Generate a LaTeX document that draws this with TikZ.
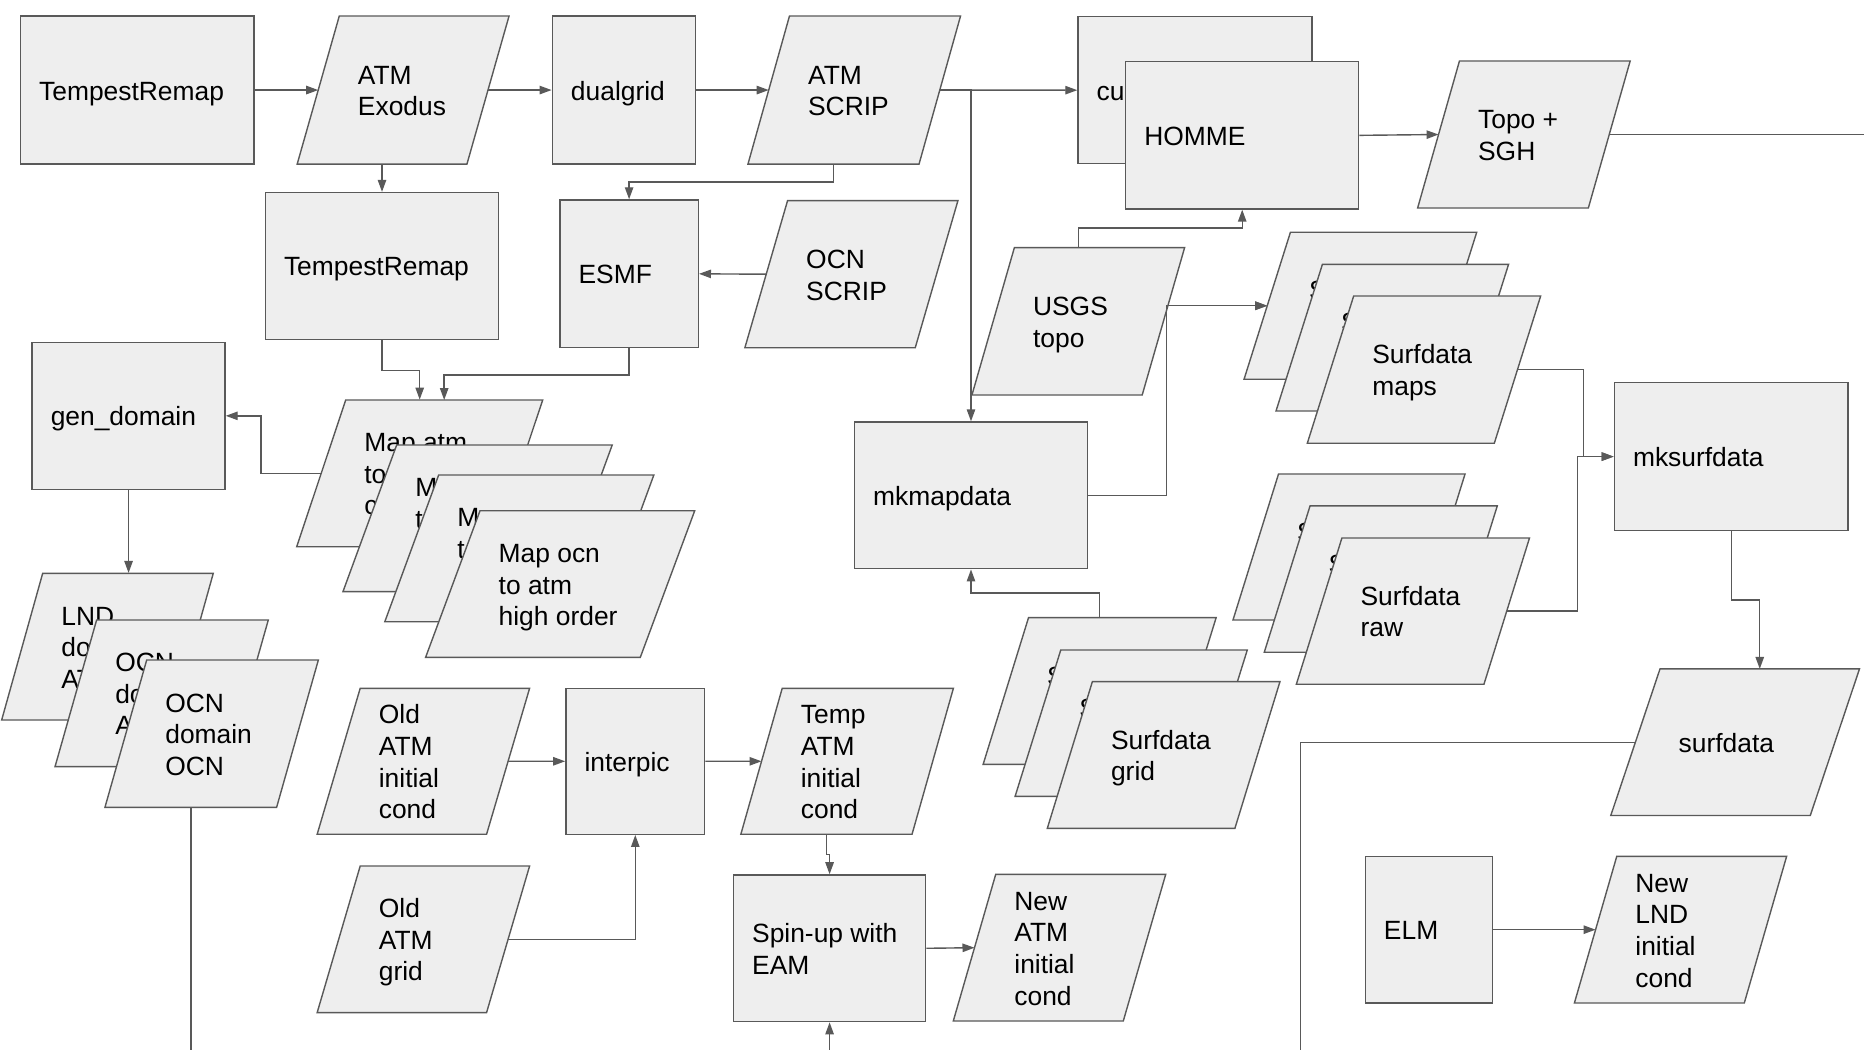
\documentclass[tikz,border=0pt]{standalone}
\usepackage{fontspec}
\setmainfont{Liberation Sans}
\usetikzlibrary{arrows.meta,fit}
\definecolor{boxfill}{HTML}{EEEEEE}
\definecolor{edgecol}{HTML}{595959}
\newcommand\mystrut{\rule[-2.9pt]{0pt}{15.8pt}}
\tikzset{
  shp/.style={fill=boxfill, draw=edgecol, line width=0.7pt, line join=miter},
  rbox/.style={shp, inner sep=0pt, rectangle},
  fitbox/.style={inner sep=0pt, rectangle, draw=none},
  lbl/.style={font=\fontsize{13.2pt}{15.81pt}\selectfont, text=black, inner sep=0pt, outer sep=0pt,
    align=left, anchor=west},
  arr/.style={draw=edgecol, line width=0.7pt, -{Triangle[length=6pt,width=4.2pt]}},
  ln/.style={draw=edgecol, line width=0.7pt},
}
% parallelogram: name, bottom-left x, top-left x, top-right x, top y, bottom y, text
\newcommand\pgm[7]{%
  \node[fitbox, fit={(#2,#5) (#4,#6)}] (#1) {};
  \path[shp] (#3,#5) -- (#4,#5) -- ({#4-#3+#2},#6) -- (#2,#6) -- cycle;
  \coordinate (#1-l) at ({(#2+#3)/2},{(#5+#6)/2});
  \coordinate (#1-r) at ({#4-(#3-#2)/2},{(#5+#6)/2});
  \coordinate (#1-tp) at ({(#3+#4)/2},#5);
  \coordinate (#1-b) at ({(#2+#4-#3+#2)/2},#6);
  \node[lbl] (#1-t) at ({#3+15.7},{(#5+#6)/2}) {\mystrut#7\mystrut};
}
% rectangle: name, x1, y1, x2, y2, text
\newcommand\rbx[6]{%
  \node[rbox, fit={(#2,#3) (#4,#5)}] (#1) {};
  \node[lbl] (#1-t) at ({#2+15.7},{(#3+#5)/2}) {\mystrut#6\mystrut};
}
\begin{document}
\begin{tikzpicture}[x=0.5944pt, y=-0.5944pt]
\useasboundingbox (0,0) rectangle (1568,883);
\fill[white] (0,0) rectangle (1568,883);

% ---- top row
\rbx{tr1}{17.2}{13.5}{213.5}{138}{TempestRemap}
\pgm{atmex}{250}{285.4}{428.2}{13.5}{138}{ATM\\Exodus}
\rbx{dualgrid}{464.6}{13.5}{585.3}{138}{dualgrid}
\pgm{atmscrip}{629.2}{664.1}{808}{13.5}{138}{ATM\\SCRIP}
\rbx{cu}{906.8}{14}{1103.6}{137.7}{cu}
\rbx{homme}{946.9}{51.9}{1143}{175.8}{HOMME}
\pgm{topo}{1192.5}{1227.7}{1371.3}{51.3}{175}{Topo +\\SGH}

% ---- second row
\rbx{tr2}{223.2}{162}{419.5}{285.4}{TempestRemap}
\rbx{esmf}{471}{168.2}{587.4}{292.5}{ESMF}
\pgm{ocnscrip}{626.6}{662.5}{805.8}{168.8}{292.5}{OCN\\SCRIP}
\pgm{usgs}{817.6}{853.3}{996.5}{208.3}{332.3}{USGS\\topo}
\pgm{maps1}{1046.5}{1085.5}{1242.2}{195.4}{319}{S\\}
\pgm{maps2}{1073.4}{1112.4}{1269}{222.4}{345.7}{S\\}
\pgm{maps3}{1099.7}{1138.7}{1296}{249}{372.9}{Surfdata\\maps}

% ---- middle
\rbx{gendomain}{27}{288}{189.3}{411.6}{gen\_domain}
\pgm{map1}{249.6}{290.8}{456.5}{336.5}{459.9}{Map atm\\to\\c}
\pgm{map2}{288.5}{333.7}{515}{374.3}{497.7}{M\\t\\}
\pgm{map3}{323.7}{369}{550}{399.6}{523}{M\\t\\}
\pgm{map4}{358}{403.8}{584.4}{429.6}{553}{Map ocn\\to atm\\high order}
\rbx{mkmapdata}{718.8}{355}{914.8}{478.4}{mkmapdata}
\rbx{mksurfdata}{1358}{322}{1554.6}{446.2}{mksurfdata}
\pgm{raw1}{1037.2}{1075.5}{1232.4}{398.7}{521.5}{S\\}
\pgm{raw2}{1063.5}{1102}{1259.5}{425.6}{548.7}{S\\}
\pgm{raw3}{1090.5}{1128.8}{1286.6}{452.6}{575.6}{Surfdata\\raw}

% ---- lower
\pgm{lnd}{1.4}{35.9}{179.4}{482.3}{605.7}{LND\\do\\AT}
\pgm{ocn2}{46.3}{81.3}{225.7}{521.5}{644.9}{OCN\\do\\A}
\pgm{ocn3}{88.3}{123.4}{267.8}{555.2}{679.1}{OCN\\domain\\OCN}
\pgm{grid1}{827}{865.2}{1023}{519.6}{643}{S\\}
\pgm{grid2}{853.9}{892.3}{1049.2}{546.8}{669.9}{S\\}
\pgm{grid3}{881}{918.9}{1076.7}{573.4}{696.8}{Surfdata\\grid}
\pgm{surfdata}{1355}{1396.4}{1564.2}{562.7}{686}{surfdata}
\pgm{old1}{266.8}{303}{445.5}{579}{701.8}{Old\\ATM\\initial\\cond}
\rbx{interpic}{476}{579}{592.8}{701.8}{interpic}
\pgm{temp}{623.2}{658}{802}{579}{701.8}{Temp\\ATM\\initial\\cond}
\pgm{old2}{266.8}{303}{445.5}{728.5}{851.8}{Old\\ATM\\grid}
\rbx{spinup}{617}{736}{778.7}{859.4}{Spin-up with\\EAM}
\pgm{newatm}{801.9}{837.6}{980.6}{735.5}{858.9}{New\\ATM\\initial\\cond}
\rbx{elm}{1148.5}{720.4}{1255.4}{843.7}{ELM}
\pgm{newlnd}{1324.4}{1360}{1502.9}{720.4}{843.7}{New\\LND\\initial\\cond}

% ---- free ends
\coordinate (bottomline) at (0,883);
\coordinate (rightend) at (1568,113.15);
\coordinate (usgso) at (982.6,257.2);
\coordinate (sdbot) at (1094.2,883);

% ---- connectors
\draw[arr] (tr1.east) -- (atmex-l);
\draw[arr] (atmex-r) -- (dualgrid.west);
\draw[arr] (dualgrid.east) -- (atmscrip-l);
\draw[arr] (atmscrip-r) -- (cu.west);
\draw[arr] (atmscrip-r) -| (mkmapdata.north);
\draw[arr] (tr2.north |- atmex.south) -- (tr2.north);
\draw[arr] (atmscrip-b) -- ++(0,15) -| (esmf.north);
\draw[arr] (ocnscrip-l) -- (esmf.east);
\draw[arr] (tr2.south) -- ++(0,25.6) -| (map1.north);
\draw[arr] (esmf.south) -- ++(0,22.5) -| (map1-tp);
\draw[arr] (map1-l) -- ++(-50.8,0) |- (gendomain.east);
\draw[arr] (gendomain.south) -- (gendomain.south |- lnd.north);
\draw[ln] (ocn3-b) -- (ocn3-b |- bottomline);
\draw[arr] (homme.east) -- (topo-l);
\draw[ln] (topo-r) -- (rightend);
\draw[arr] (usgs.north) -- ++(0,-16.3) -| (homme.south);
\draw[arr] (usgso) -- (maps1-l);
\draw[arr] (mkmapdata.east) -- ++(65.7,0) |- (maps1-l);
\draw[arr] (grid1.north) -- ++(0,-20.6) -| (mkmapdata.south);
\draw[arr] (maps3-r) -- ++(55.4,0) |- (mksurfdata.west);
\draw[arr] (raw3-r) -- ++(59.6,0) |- (mksurfdata.west);
\draw[arr] (mksurfdata.south) -- ++(0,57.8) -| (surfdata-tp);
\draw[ln] (surfdata-l) -| (sdbot);
\draw[arr] (old1-r) -- (interpic.west);
\draw[arr] (interpic.east) -- (temp-l);
\draw[arr] (old2-r) -| (interpic.south);
\draw[arr] (temp-b) -- ++(0,17) -| (spinup.north);
\draw[arr] (spinup.east) -- (newatm-l);
\draw[arr] (spinup.south |- bottomline) -- (spinup.south);
\draw[arr] (elm.east) -- (newlnd-l);
\end{tikzpicture}
\end{document}
